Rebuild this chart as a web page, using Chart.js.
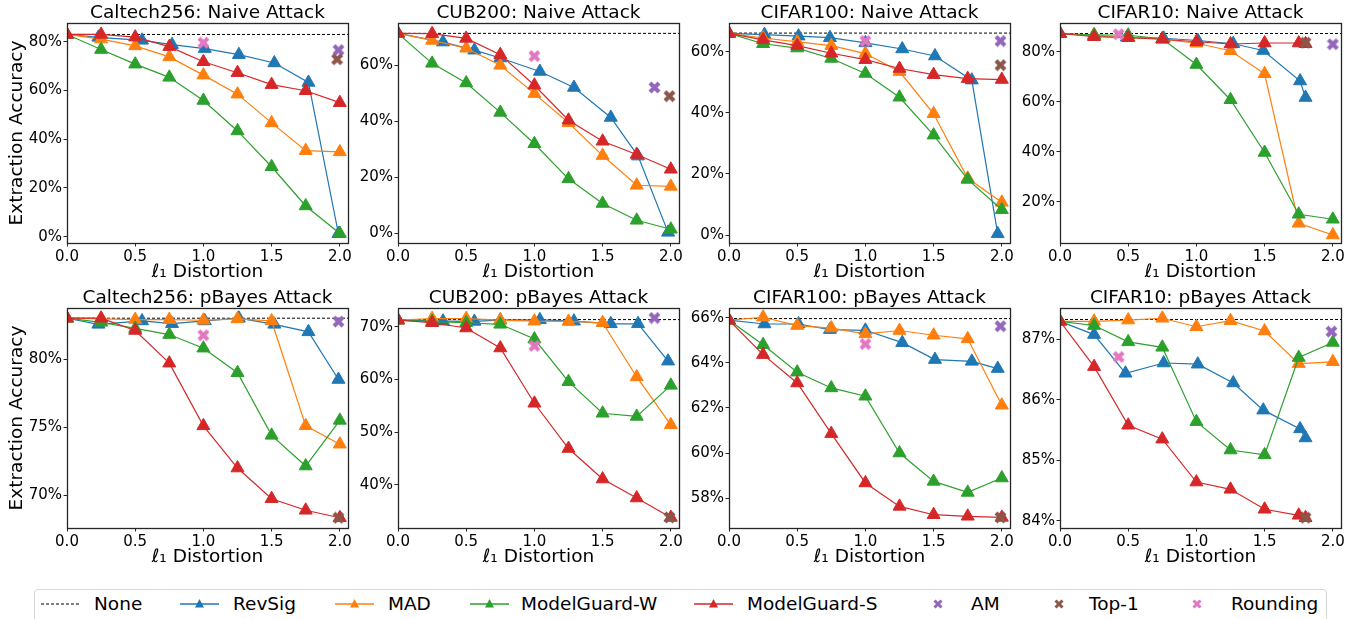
<!DOCTYPE html>
<html>
<head>
<meta charset="utf-8">
<script src="https://cdn.jsdelivr.net/npm/chart.js@4.4.1/dist/chart.umd.min.js"></script>
<style>
  body { margin: 0; background: #fff; width: 1359px; height: 619px; overflow: hidden; position: relative; font-family: "DejaVu Sans", sans-serif; }
  canvas { position: absolute; }
  #legend { position: absolute; left: 34px; top: 589px; width: 1291px; height: 44px; border: 1px solid #d6d6d6; border-radius: 4px; background: #fff; }
  #legend svg, #legend span { position: absolute; }
  #legend span { font-size: 18.5px; line-height: 22px; top: 3px; color: #000; white-space: nowrap; }
</style>
</head>
<body>
<div id="legend"></div>
<script>
// panel titles in reading order (row 1: naive, row 2: pBayes)
const panelTitles = [
  "Caltech256: Naive Attack", "CUB200: Naive Attack", "CIFAR100: Naive Attack", "CIFAR10: Naive Attack",
  "Caltech256: pBayes Attack", "CUB200: pBayes Attack", "CIFAR100: pBayes Attack", "CIFAR10: pBayes Attack"
];
const seriesNames = ["None", "RevSig", "MAD", "ModelGuard-W", "ModelGuard-S", "AM", "Top-1", "Rounding"];

// l1 distortion levels
const distLevels = [0, 0.25, 0.5, 0.75, 1.0, 1.25, 1.5, 1.75, 2.0];
const distCapped = [0, 0.25, 0.5, 0.75, 1.0, 1.25, 1.5, 1.75, 1.8];

// undefended accuracy (dashed line)
const noneAcc = [83.0, 71.3, 66.1, 87.3, 83.0, 71.4, 65.97, 87.33];

const revSigX = [
  [0, 0.23, 0.55, 0.77, 1.01, 1.26, 1.52, 1.77, 1.99],
  [0, 0.33, 0.56, 0.75, 1.04, 1.29, 1.56, 1.76, 1.98],
  [0, 0.26, 0.51, 0.74, 1.0, 1.27, 1.51, 1.78, 1.97],
  [0, 0.25, 0.49, 0.76, 1.01, 1.27, 1.49, 1.76, 1.8],
  [0, 0.23, 0.55, 0.77, 1.01, 1.26, 1.52, 1.77, 1.99],
  [0, 0.33, 0.56, 0.75, 1.04, 1.29, 1.56, 1.76, 1.98],
  [0, 0.26, 0.51, 0.74, 1.0, 1.27, 1.51, 1.78, 1.97],
  [0, 0.25, 0.48, 0.76, 1.01, 1.27, 1.49, 1.76, 1.8]
];
const revSigAcc = [
  [83.0, 81.8, 80.6, 78.8, 77.2, 74.7, 71.3, 63.3, 1.2],
  [71.3, 68.2, 65.3, 62.5, 57.7, 52.0, 41.3, 27.5, 0.3],
  [66.0, 65.6, 65.1, 64.6, 62.9, 60.9, 58.6, 50.7, 0.4],
  [87.3, 86.4, 85.8, 85.4, 84.5, 83.2, 80.5, 68.3, 61.7],
  [83.0, 82.55, 82.8, 82.6, 82.8, 83.0, 82.55, 82.0, 78.5],
  [71.3, 71.1, 71.05, 71.3, 71.35, 71.1, 70.6, 70.6, 63.5],
  [65.9, 65.73, 65.73, 65.48, 65.45, 64.9, 64.15, 64.07, 63.75],
  [87.3, 87.08, 86.44, 86.61, 86.59, 86.28, 85.83, 85.52, 85.37]
];
const madAcc = [
  [83.0, 81.1, 78.3, 73.8, 66.3, 58.5, 46.7, 35.3, 34.8],
  [71.3, 68.8, 66.0, 59.9, 49.8, 39.4, 27.7, 17.1, 16.7],
  [66.0, 64.5, 63.2, 62.0, 59.4, 53.5, 39.7, 18.6, 10.7],
  [87.3, 86.5, 85.8, 85.0, 83.4, 80.4, 71.2, 11.4, 6.7],
  [83.0, 82.95, 82.9, 82.9, 82.85, 82.95, 82.8, 75.1, 73.75],
  [71.3, 71.6, 71.6, 71.3, 71.1, 71.05, 70.8, 60.5, 51.4],
  [65.9, 66.03, 65.66, 65.55, 65.29, 65.44, 65.23, 65.07, 62.12],
  [87.3, 87.3, 87.32, 87.35, 87.21, 87.31, 87.14, 86.6, 86.63]
];
const mgwAcc = [
  [83.0, 76.8, 70.8, 65.4, 55.9, 43.4, 28.7, 12.6, 1.3],
  [71.3, 60.6, 53.6, 43.1, 31.9, 19.4, 10.6, 4.6, 1.4],
  [66.0, 62.6, 61.2, 57.8, 52.9, 45.1, 32.7, 18.2, 8.3],
  [87.3, 86.8, 86.6, 85.2, 74.9, 60.8, 39.7, 15.0, 13.0],
  [83.0, 82.7, 82.25, 81.8, 80.8, 79.0, 74.4, 72.15, 75.5],
  [71.3, 71.0, 70.8, 70.5, 67.7, 59.6, 53.6, 53.0, 58.9],
  [65.9, 64.81, 63.59, 62.89, 62.52, 60.0, 58.74, 58.25, 58.89],
  [87.3, 87.23, 86.96, 86.87, 85.64, 85.17, 85.09, 86.7, 86.95]
];
const mgsX = [distLevels, distLevels, distLevels, distCapped, distLevels, distLevels, distLevels, distCapped];
const mgsAcc = [
  [83.0, 83.0, 81.9, 78.0, 71.8, 67.3, 62.4, 59.9, 55.0],
  [71.3, 71.2, 69.5, 63.7, 52.8, 40.3, 32.8, 28.1, 22.8],
  [66.0, 63.9, 62.0, 59.5, 57.4, 54.5, 52.5, 51.2, 50.9],
  [87.3, 86.0, 85.6, 85.0, 84.0, 83.1, 83.5, 83.5, 83.2],
  [83.0, 83.0, 82.1, 79.7, 75.1, 72.0, 69.75, 68.9, 68.35],
  [71.3, 70.8, 69.8, 66.0, 55.5, 46.9, 41.1, 37.5, 33.8],
  [65.9, 64.37, 63.11, 60.86, 58.67, 57.63, 57.26, 57.19, 57.14],
  [87.3, 86.55, 85.58, 85.35, 84.64, 84.52, 84.19, 84.09, 84.05]
];

// single-point defenses
const amX = [1.99, 1.88, 1.99, 2.0, 1.99, 1.88, 1.99, 1.99];
const amAcc = [76.6, 52.0, 63.5, 83.0, 82.75, 71.7, 65.63, 87.13];
const top1X = [1.98, 1.99, 1.99, 1.8, 1.99, 1.99, 1.99, 1.8];
const top1Acc = [72.8, 48.9, 55.6, 83.6, 68.35, 33.8, 57.14, 84.05];
const roundX = [1.0, 1.0, 1.0, 0.43, 1.0, 1.0, 1.0, 0.43];
const roundAcc = [79.6, 63.2, 63.5, 87.0, 81.75, 66.4, 64.84, 86.71];

// axes
const xTickStep = 0.5;
const xMax = 2.06;
const yMin = [-2.6, -3.5, -2.6, 3.5, 67.6, 31.8, 56.67, 83.88];
const yMax = [87.7, 75.0, 69.4, 91.5, 83.75, 73.6, 66.44, 87.52];
const yTickStep = [20, 20, 20, 20, 5, 10, 2, 1];

const colors = ["#000000", "#1f77b4", "#ff7f0e", "#2ca02c", "#d62728", "#9467bd", "#8c564b", "#e377c2"];

Chart.defaults.font.family = "'DejaVu Sans', sans-serif";
Chart.defaults.color = "#000";

function crossImg(color) {
  const c = document.createElement("canvas");
  c.width = 13; c.height = 13;
  const g = c.getContext("2d");
  g.strokeStyle = color;
  g.lineWidth = 4.2;
  g.beginPath();
  g.moveTo(2, 2); g.lineTo(11, 11);
  g.moveTo(11, 2); g.lineTo(2, 11);
  g.stroke();
  return c;
}

// title centred over the plot area + black frame around it
const panelDecor = {
  id: "panelDecor",
  afterDraw(chart, args, opts) {
    const { ctx, chartArea: a } = chart;
    ctx.save();
    ctx.strokeStyle = "#262626";
    ctx.lineWidth = 1.3;
    ctx.strokeRect(Math.round(a.left) + 0.5, Math.round(a.top) + 0.5, Math.round(a.right - a.left), Math.round(a.bottom - a.top));
    ctx.fillStyle = "#000";
    ctx.font = "18.5px 'DejaVu Sans', sans-serif";
    ctx.textAlign = "center";
    ctx.textBaseline = "middle";
    ctx.fillText(opts.text, (a.left + a.right) / 2, a.top - 9.5);
    ctx.restore();
  }
};

const plotLeft = [67, 398, 729, 1060];
const plotW = 281, plotH = 220, padTop = 23, axisH = 42, padRight = 16;

function pts(xs, ys) {
  return ys.map((y, i) => ({ x: xs[i], y: y }));
}

function lineSet(label, xs, ys, color, order) {
  return {
    label, data: pts(xs, ys), showLine: true, order,
    borderColor: color, backgroundColor: color, borderWidth: 1.2,
    pointStyle: "triangle", pointRadius: 7.5, pointBorderWidth: 1, pointBorderColor: color
  };
}

function singleSet(label, x, y, color, order) {
  return {
    label, data: [{ x, y }], showLine: false, order,
    pointStyle: crossImg(color), pointRadius: 6
  };
}

for (let p = 0; p < 8; p++) {
  const col = p % 4, row = Math.floor(p / 4);
  const yW = col === 0 ? 67 : 55;
  const cv = document.createElement("canvas");
  const w = yW + plotW + padRight, h = padTop + plotH + axisH;
  cv.width = w; cv.height = h;
  cv.style.left = (plotLeft[col] - yW) + "px";
  cv.style.top = (row * 285) + "px";
  cv.style.width = w + "px"; cv.style.height = h + "px";
  document.body.appendChild(cv);

  const datasets = [
    {
      label: seriesNames[0], data: [{ x: 0, y: noneAcc[p] }, { x: xMax, y: noneAcc[p] }],
      showLine: true, order: 8, borderColor: "#000", borderWidth: 1, borderDash: [3, 2], pointRadius: 0
    },
    lineSet(seriesNames[1], revSigX[p], revSigAcc[p], colors[1], 7),
    lineSet(seriesNames[2], distLevels, madAcc[p], colors[2], 6),
    lineSet(seriesNames[3], distLevels, mgwAcc[p], colors[3], 5),
    lineSet(seriesNames[4], mgsX[p], mgsAcc[p], colors[4], 4),
    singleSet(seriesNames[5], amX[p], amAcc[p], colors[5], 3),
    singleSet(seriesNames[6], top1X[p], top1Acc[p], colors[6], 2),
    singleSet(seriesNames[7], roundX[p], roundAcc[p], colors[7], 1)
  ];

  new Chart(cv.getContext("2d"), {
    type: "scatter",
    data: { datasets },
    plugins: [panelDecor],
    options: {
      responsive: false,
      animation: false,
      layout: { padding: { top: padTop, right: padRight, left: 0, bottom: 0 } },
      plugins: {
        legend: { display: false },
        tooltip: { enabled: false },
        panelDecor: { text: panelTitles[p] }
      },
      scales: {
        x: {
          type: "linear", min: 0, max: xMax,
          ticks: { stepSize: xTickStep, includeBounds: false, maxRotation: 0, padding: 2, color: "#000",
                   font: { size: 15 }, callback: (v) => v.toFixed(1) },
          grid: { drawOnChartArea: false, tickLength: 3.5, color: "#262626" },
          border: { display: false },
          title: { display: true, text: "ℓ₁ Distortion", color: "#000", font: { size: 18.5 }, padding: { top: 0, bottom: 2 } },
          afterFit: (s) => { s.height = axisH; }
        },
        y: {
          type: "linear", min: yMin[p], max: yMax[p],
          ticks: { stepSize: yTickStep[p], includeBounds: false, padding: 1.5, color: "#000",
                   font: { size: 15 }, callback: (v) => Math.round(v) + "%" },
          grid: { drawOnChartArea: false, tickLength: 3.5, color: "#262626" },
          border: { display: false },
          title: { display: col === 0, text: "Extraction Accuracy", color: "#000", font: { size: 18.5 }, padding: { top: 6, bottom: 0 } },
          afterFit: (s) => { s.width = yW; }
        }
      }
    }
  });
}

// shared legend below the grid
const legendItems = [
  { kind: "dash", lineX: 6, textX: 59 },
  { kind: "tri", lineX: 145, textX: 198 },
  { kind: "tri", lineX: 300, textX: 353 },
  { kind: "tri", lineX: 435, textX: 486 },
  { kind: "tri", lineX: 659, textX: 712 },
  { kind: "x", lineX: 896, textX: 936 },
  { kind: "x", lineX: 1017, textX: 1054 },
  { kind: "x", lineX: 1155, textX: 1196 }
];
const legend = document.getElementById("legend");
legendItems.forEach((it, i) => {
  const c = colors[i];
  let svg;
  if (it.kind === "dash") {
    svg = `<svg width="40" height="14" style="left:${it.lineX}px;top:7px"><line x1="0" y1="7" x2="39" y2="7" stroke="#000" stroke-width="1" stroke-dasharray="3,2"/></svg>`;
  } else if (it.kind === "tri") {
    svg = `<svg width="40" height="14" style="left:${it.lineX}px;top:7px"><line x1="0" y1="7" x2="39" y2="7" stroke="${c}" stroke-width="1.3"/><polygon points="19.5,2 24,10.5 15,10.5" fill="${c}"/></svg>`;
  } else {
    svg = `<svg width="14" height="14" style="left:${it.lineX}px;top:7px"><path d="M3.5,3.5 L10.5,10.5 M10.5,3.5 L3.5,10.5" stroke="${c}" stroke-width="3"/></svg>`;
  }
  legend.insertAdjacentHTML("beforeend", svg + `<span style="left:${it.textX}px">${seriesNames[i]}</span>`);
});
</script>
</body>
</html>
